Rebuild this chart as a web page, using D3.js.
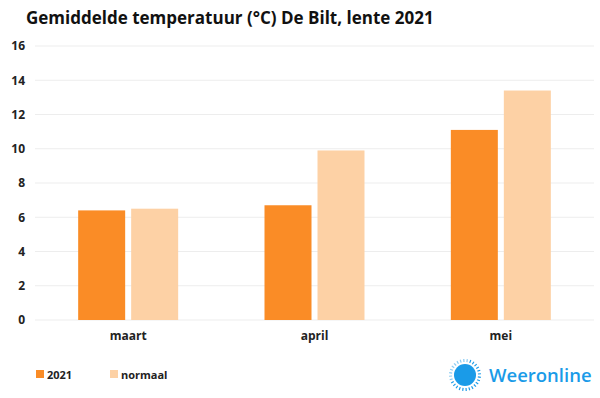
<!DOCTYPE html>
<html>
<head>
<meta charset="utf-8">
<script src="https://cdn.jsdelivr.net/npm/d3@7"></script>
<style>
body { margin: 0; background: #fff; }
svg { display: block; font-family: "Open Sans", sans-serif; }
</style>
</head>
<body>
<svg width="600" height="398"></svg>
<script>
var months = ["maart", "april", "mei"];
var series = ["2021", "normaal"];
var values2021 = [6.4, 6.7, 11.1];
var valuesNormaal = [6.5, 9.9, 13.4];
var yTicks = [0, 2, 4, 6, 8, 10, 12, 14, 16];
var colors = ["#fa8c26", "#fdd1a5"];

var margin = { top: 46, right: 6, bottom: 78, left: 35 };
var width = 600 - margin.left - margin.right;
var height = 398 - margin.top - margin.bottom;

var svg = d3.select("svg");

svg.append("text")
    .attr("x", 26)
    .attr("y", 24)
    .attr("font-size", 17)
    .attr("font-weight", 700)
    .attr("fill", "#111")
    .text("Gemiddelde temperatuur (°C) De Bilt, lente 2021");

var g = svg.append("g")
    .attr("transform", "translate(" + margin.left + "," + margin.top + ")");

var x = d3.scaleBand().domain(months).range([0, width]);
var y = d3.scaleLinear().domain([0, 16]).range([height, 0]);

// gridlines
g.selectAll(".grid")
    .data(yTicks)
    .enter().append("line")
    .attr("x1", 0)
    .attr("x2", width)
    .attr("y1", function(d) { return y(d); })
    .attr("y2", function(d) { return y(d); })
    .attr("stroke", "#ededed")
    .attr("stroke-width", 1);

var yAxis = g.append("g")
    .call(d3.axisLeft(y).tickValues(yTicks).tickSize(0).tickPadding(10));
yAxis.select(".domain").remove();
yAxis.selectAll("text")
    .attr("font-family", "Open Sans, sans-serif")
    .attr("font-size", 12)
    .attr("font-weight", 700)
    .attr("fill", "#222");

var xAxis = g.append("g")
    .attr("transform", "translate(0," + height + ")")
    .call(d3.axisBottom(x).tickSize(0).tickPadding(11));
xAxis.select(".domain").remove();
xAxis.selectAll("text")
    .attr("font-family", "Open Sans, sans-serif")
    .attr("font-size", 12)
    .attr("font-weight", 700)
    .attr("fill", "#222");

var barW = 47, gap = 3;
var data = [values2021, valuesNormaal];

data.forEach(function(vals, s) {
    g.selectAll(".bar" + s)
        .data(vals)
        .enter().append("rect")
        .attr("x", function(d, i) {
            var c = x(months[i]) + x.bandwidth() / 2;
            return s === 0 ? c - gap - barW : c + gap;
        })
        .attr("y", function(d) { return y(d); })
        .attr("width", barW)
        .attr("height", function(d) { return height - y(d); })
        .attr("fill", colors[s]);
});

// legend
var legend = svg.append("g").attr("transform", "translate(36,375)");
var legX = [0, 74];
series.forEach(function(s, i) {
    legend.append("rect")
        .attr("x", legX[i])
        .attr("y", -5)
        .attr("width", 8)
        .attr("height", 8)
        .attr("fill", colors[i]);
    legend.append("text")
        .attr("x", legX[i] + 11)
        .attr("y", 3.5)
        .attr("font-size", 11)
        .attr("font-weight", 700)
        .attr("fill", "#222")
        .text(s);
});

// logo
var logo = svg.append("g").attr("transform", "translate(465,375)");
logo.append("circle")
    .attr("cx", 0).attr("cy", 0).attr("r", 11)
    .attr("fill", "#1a9be8");
var rays = d3.range(0, 28);
logo.selectAll(".ray")
    .data(rays)
    .enter().append("line")
    .attr("x1", function(d) { return 13 * Math.cos(d / 28 * 2 * Math.PI - 1.2); })
    .attr("y1", function(d) { return 13 * Math.sin(d / 28 * 2 * Math.PI - 1.2); })
    .attr("x2", function(d) { return 16 * Math.cos(d / 28 * 2 * Math.PI - 1.2); })
    .attr("y2", function(d) { return 16 * Math.sin(d / 28 * 2 * Math.PI - 1.2); })
    .attr("stroke", "#1a9be8")
    .attr("stroke-width", 1.2)
    .attr("opacity", function(d) { return d < 18 ? 1 : 0.5; });
logo.append("text")
    .attr("x", 24)
    .attr("y", 7)
    .attr("font-size", 18.5)
    .attr("font-weight", 600)
    .attr("fill", "#1a9be8")
    .text("Weeronline");
</script>
</body>
</html>
